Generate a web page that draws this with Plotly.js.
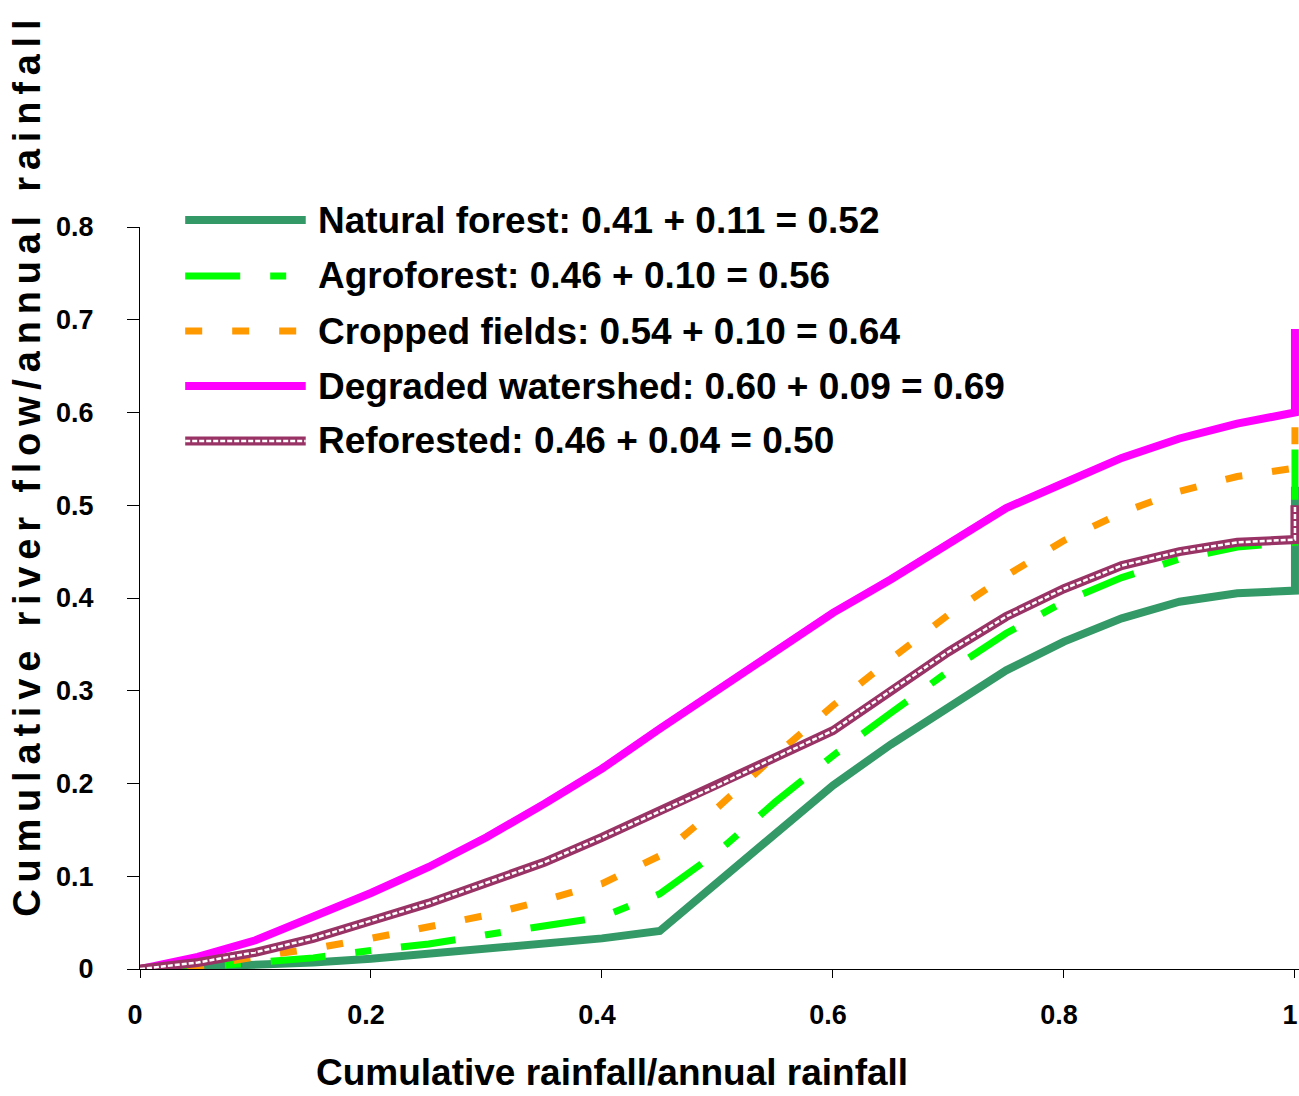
<!DOCTYPE html>
<html>
<head>
<meta charset="utf-8">
<script src="https://cdn.plot.ly/plotly-3.0.1.min.js"></script>
<style>
html,body{margin:0;padding:0;background:#fff;}
#chart{width:1299px;height:1096px;}
</style>
</head>
<body>
<div id="chart"></div>
<script>
// x: cumulative rainfall / annual rainfall (final point repeated for the end-of-year jump)
const xValues = [0,0.05,0.1,0.15,0.2,0.25,0.3,0.35,0.4,0.45,0.5,0.55,0.6,0.65,0.7,0.75,0.8,0.85,0.9,0.95,1,1];

const naturalForest = [0,0.002,0.004,0.007,0.011,0.016,0.021,0.027,0.033,0.041,0.094,0.147,0.198,0.242,0.282,0.322,0.353,0.378,0.396,0.405,0.408,0.52];
const agroforest    = [0,0.002,0.007,0.012,0.02,0.027,0.037,0.046,0.056,0.081,0.126,0.18,0.23,0.276,0.321,0.362,0.396,0.422,0.442,0.455,0.46,0.56];
const croppedFields = [0,0.003,0.013,0.022,0.033,0.045,0.058,0.074,0.092,0.122,0.174,0.23,0.284,0.334,0.382,0.424,0.462,0.492,0.515,0.531,0.54,0.64];
const degraded      = [0,0.013,0.031,0.056,0.082,0.11,0.142,0.178,0.216,0.259,0.3,0.342,0.384,0.42,0.458,0.497,0.524,0.551,0.572,0.588,0.6,0.69];
const reforested    = [0,0.007,0.018,0.033,0.052,0.071,0.093,0.115,0.142,0.17,0.198,0.228,0.257,0.3,0.342,0.38,0.41,0.435,0.45,0.46,0.463,0.50];

const seriesNames = [
  "Natural forest: 0.41 + 0.11 = 0.52",
  "Agroforest: 0.46 + 0.10 = 0.56",
  "Cropped fields: 0.54 + 0.10 = 0.64",
  "Degraded watershed: 0.60 + 0.09 = 0.69",
  "Reforested: 0.46 + 0.04 = 0.50"
];
const xTickVals = [0,0.2,0.4,0.6,0.8,1];
const xTickText = ["0","0.2","0.4","0.6","0.8","1"];
const yTickVals = [0,0.1,0.2,0.3,0.4,0.5,0.6,0.7,0.8];
const yTickText = ["0","0.1","0.2","0.3","0.4","0.5","0.6","0.7","0.8"];
const xTitle = "Cumulative rainfall/annual rainfall";
const yTitle = "Cumulative river flow/annual rainfall";

const FONT = "Liberation Sans, Arial, sans-serif";
const styles = [
  {color:"#339966", width:8, dash:"solid"},
  {color:"#00FF00", width:7, dash:"55px,30px,16px,30px"},
  {color:"#FF9900", width:7, dash:"17px,30px"},
  {color:"#FF00FF", width:8, dash:"solid"},
  {color:"#993366", width:9, dash:"solid", inner:{color:"#ffffff", width:2.5, dash:"5px,2px"}}
];
const seriesY = [naturalForest, agroforest, croppedFields, degraded, reforested];

const traces = [];
seriesY.forEach((ys, i) => {
  const s = styles[i];
  traces.push({x:xValues, y:ys, type:"scatter", mode:"lines", name:seriesNames[i],
    line:{color:s.color, width:s.width, dash:s.dash}, showlegend:false, hoverinfo:"skip"});
  if (s.inner) {
    traces.push({x:xValues, y:ys, type:"scatter", mode:"lines", name:seriesNames[i],
      line:{color:s.inner.color, width:s.inner.width, dash:s.inner.dash}, showlegend:false, hoverinfo:"skip"});
  }
});

// custom legend (long sample lines like the original)
const legendRowsY = [1.0094, 0.934, 0.8598, 0.7857, 0.7116];
const shapes = [];
const annotations = [];
seriesNames.forEach((nm, i) => {
  const s = styles[i];
  const y = legendRowsY[i];
  shapes.push({type:"line", xref:"paper", yref:"paper", x0:0.039, x1:0.143, y0:y, y1:y,
    line:{color:s.color, width:s.width, dash:s.dash}});
  if (s.inner) {
    shapes.push({type:"line", xref:"paper", yref:"paper", x0:0.039, x1:0.143, y0:y, y1:y,
      line:{color:s.inner.color, width:s.inner.width, dash:s.inner.dash}});
  }
  annotations.push({xref:"paper", yref:"paper", x:0.152, y:y, xanchor:"left", yanchor:"middle",
    text:nm, showarrow:false, font:{family:FONT, size:37, color:"#000", weight:"bold"}});
});
annotations.push({xref:"paper", yref:"paper", x:0.407, y:-0.140, xanchor:"center", yanchor:"middle",
  text:xTitle, showarrow:false, font:{family:FONT, size:37, color:"#000", weight:"bold"}});
annotations.push({xref:"paper", yref:"paper", x:-0.097, y:0.679, xanchor:"center", yanchor:"middle",
  textangle:-90, text:'<span style="letter-spacing:6.8px">'+yTitle+'</span>', showarrow:false,
  font:{family:FONT, size:38, color:"#000", weight:"bold"}});

const layout = {
  width:1299, height:1096,
  margin:{l:140, r:0, t:227, b:127},
  paper_bgcolor:"#fff", plot_bgcolor:"#fff",
  showlegend:false,
  xaxis:{range:[0,1.0035], tickvals:xTickVals, ticktext:xTickText, showgrid:false, zeroline:false,
    showline:true, linecolor:"#000", linewidth:1, ticks:"outside", ticklen:8, tickcolor:"#000",
    ticklabelstandoff:14, ticklabelshift:-5, ticklabeloverflow:"allow",
    tickfont:{family:FONT, size:27, color:"#000", weight:"bold"}},
  yaxis:{range:[0,0.8], tickvals:yTickVals, ticktext:yTickText, showgrid:false, zeroline:false,
    showline:true, linecolor:"#000", linewidth:1, ticks:"outside", ticklen:12, tickcolor:"#000",
    ticklabelstandoff:28, tickfont:{family:FONT, size:27, color:"#000", weight:"bold"}},
  shapes:shapes,
  annotations:annotations
};

Plotly.newPlot("chart", traces, layout, {staticPlot:true, displayModeBar:false});
</script>
</body>
</html>
